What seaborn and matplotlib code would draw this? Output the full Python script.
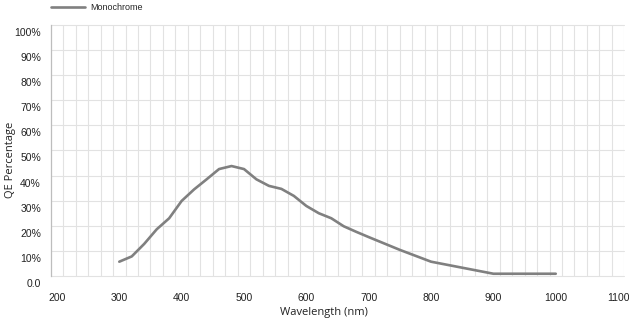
import numpy as np
import pandas as pd
import matplotlib
matplotlib.use("Agg")
import matplotlib.pyplot as plt
import matplotlib.transforms as mtransforms
from matplotlib.ticker import FixedLocator, FuncFormatter
import seaborn as sns

# QE curve
wavelength = [300, 320, 340, 360, 380, 400, 420, 440, 460, 480, 500, 520, 540,
              560, 580, 600, 620, 640, 660, 680, 700, 750, 800, 850, 900, 1000]
qe_percent = [5.7, 7.8, 12.8, 18.6, 23.0, 29.9, 34.5, 38.5, 42.6, 43.8, 42.6, 38.5, 35.9,
              34.7, 31.9, 27.9, 25.0, 23.0, 19.8, 17.6, 15.5, 10.4, 5.7, 3.3, 0.9, 0.9]
series_name = "Monochrome"

x_ticks = [200, 300, 400, 500, 600, 700, 800, 900, 1000, 1100]
y_ticks = [0, 10, 20, 30, 40, 50, 60, 70, 80, 90, 100]

df = pd.DataFrame({"wavelength": wavelength, "qe": qe_percent, "series": series_name})

sns.set_style("white")
plt.rcParams['font.family'] = ['Liberation Sans', 'DejaVu Sans']

fig = plt.figure(figsize=(6.29, 3.2), dpi=100)
ax = fig.add_axes([0.0806, 0.1375, 0.912, 0.7845])

sns.lineplot(data=df, x="wavelength", y="qe", color="#808080", linewidth=1.9,
             ax=ax, legend=False)

ax.set_xlim(190, 1110)
ax.set_ylim(0, 100)

# vertical grid every 20 nm, offset from the labelled ticks
ax.xaxis.set_major_locator(FixedLocator(x_ticks))
ax.xaxis.set_minor_locator(FixedLocator(list(range(210, 1111, 20))))
ax.yaxis.set_major_locator(FixedLocator(y_ticks))
ax.grid(False)
ax.grid(True, which="minor", axis="x", color="#e2e2e2", linewidth=0.8)
ax.grid(True, which="major", axis="y", color="#e2e2e2", linewidth=0.8)
for gl in ax.get_ygridlines():
    gl.set_clip_on(False)
ax.set_axisbelow(True)

ax.yaxis.set_major_formatter(FuncFormatter(lambda v, p: "0.0" if v == 0 else f"{int(v)}%"))
ax.tick_params(axis="both", which="major", length=0, labelsize=7.5, colors="#222222")
ax.tick_params(axis="both", which="minor", length=0)
ax.tick_params(axis="x", pad=12)
ax.tick_params(axis="y", pad=7)

# y labels sit a little below their grid lines in the reference
offset = mtransforms.ScaledTranslation(0, -5 / 72, fig.dpi_scale_trans)
for lbl in ax.get_yticklabels():
    lbl.set_transform(lbl.get_transform() + offset)

for side in ["top", "right", "bottom"]:
    ax.spines[side].set_visible(False)
ax.spines["left"].set_color("#bdbdbd")
ax.spines["left"].set_linewidth(0.9)

ax.set_xlabel("Wavelength (nm)", fontsize=8, family=["Open Sans", "DejaVu Sans"],
              color="#222222")
ax.set_ylabel("QE Percentage", fontsize=8, family=["Open Sans", "DejaVu Sans"],
              color="#222222")
ax.xaxis.set_label_coords(0.4765, -0.122)
ax.yaxis.set_label_coords(-0.0605, 0.462)

# legend above the plot, top left
handle = plt.Line2D([], [], color="#808080", linewidth=1.9)
fig.legend([handle], [series_name], loc="upper left", bbox_to_anchor=(51 / 629, 1 - 3 / 320),
           frameon=False, fontsize=6.5, handlelength=3.8, handletextpad=0.6,
           borderpad=0, borderaxespad=0)

fig.savefig("out.png", dpi=100)
